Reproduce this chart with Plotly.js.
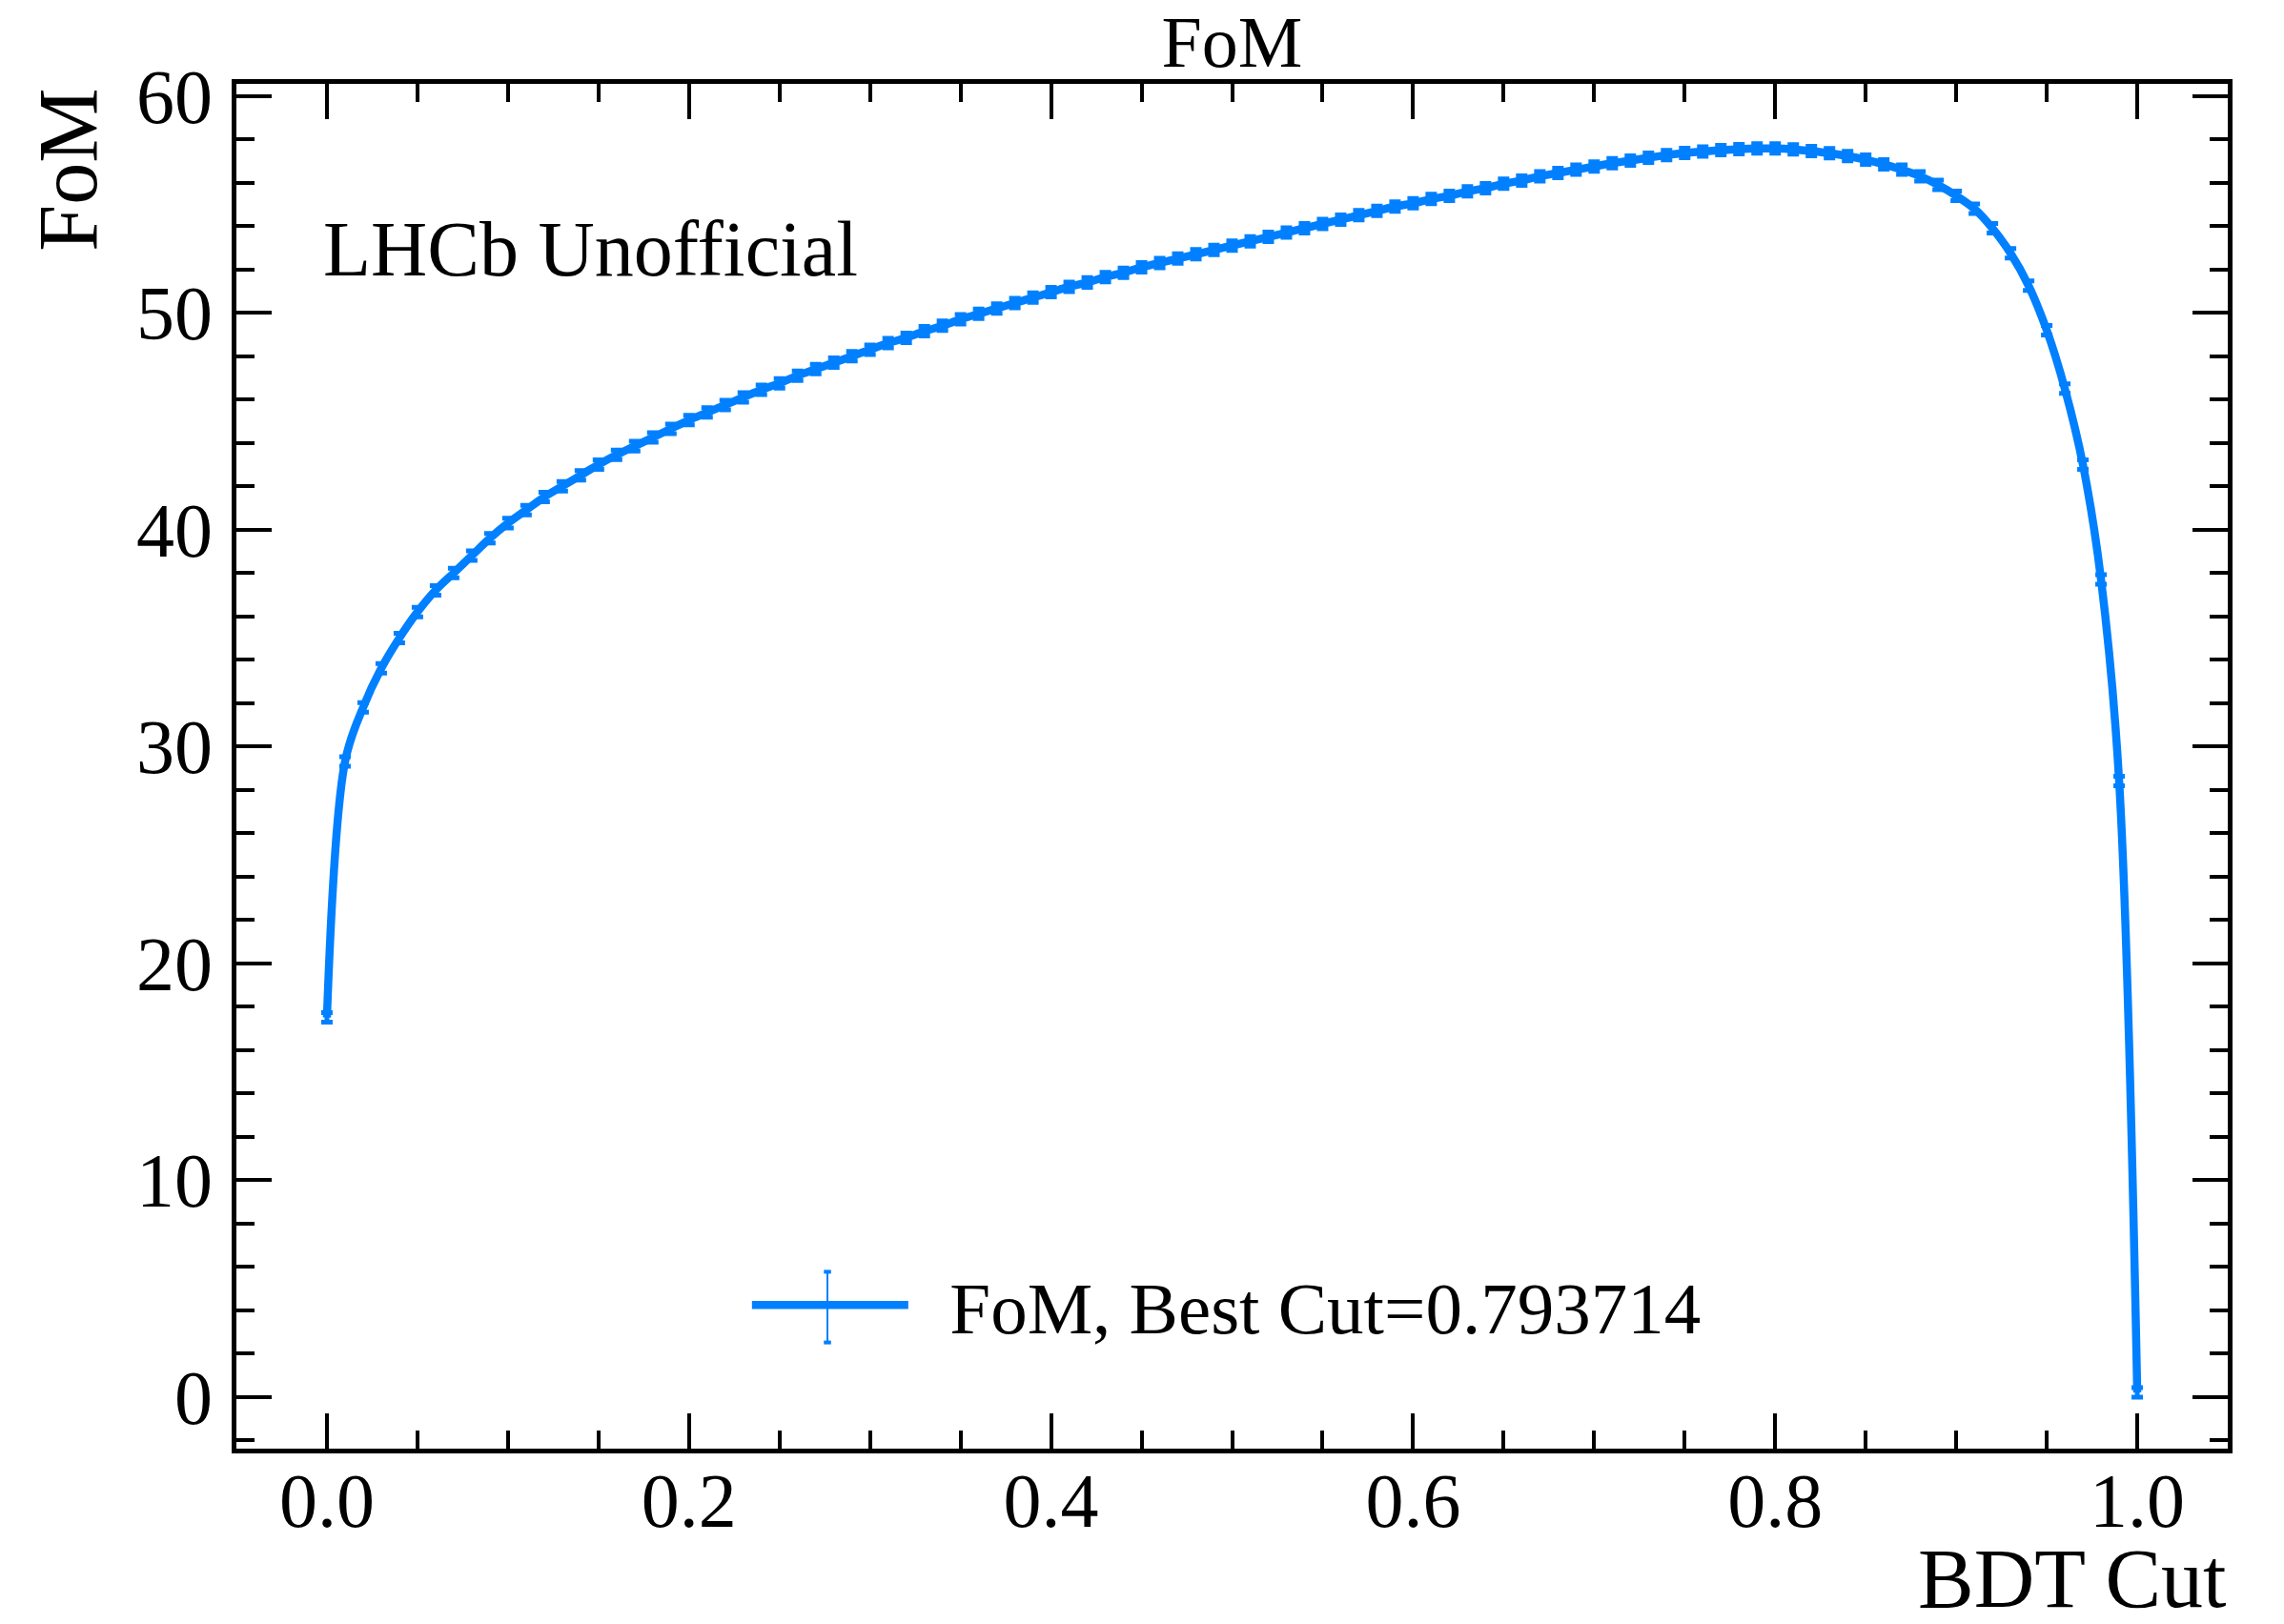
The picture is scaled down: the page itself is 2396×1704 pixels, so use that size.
<!DOCTYPE html>
<html>
<head>
<meta charset="utf-8">
<script src="https://cdn.plot.ly/plotly-3.0.1.min.js"></script>
<style>html,body{margin:0;padding:0;background:#fff;}#chart{width:2396px;height:1704px;}</style>
</head>
<body>
<div id="chart"></div>
<script>
// BDT cut values (x)
const bdtCut = [
  0.00,0.01,0.02,0.03,0.04,0.05,0.06,0.07,0.08,0.09,
  0.10,0.11,0.12,0.13,0.14,0.15,0.16,0.17,0.18,0.19,
  0.20,0.21,0.22,0.23,0.24,0.25,0.26,0.27,0.28,0.29,
  0.30,0.31,0.32,0.33,0.34,0.35,0.36,0.37,0.38,0.39,
  0.40,0.41,0.42,0.43,0.44,0.45,0.46,0.47,0.48,0.49,
  0.50,0.51,0.52,0.53,0.54,0.55,0.56,0.57,0.58,0.59,
  0.60,0.61,0.62,0.63,0.64,0.65,0.66,0.67,0.68,0.69,
  0.70,0.71,0.72,0.73,0.74,0.75,0.76,0.77,0.78,0.79,
  0.80,0.81,0.82,0.83,0.84,0.85,0.86,0.87,0.88,0.89,
  0.90,0.91,0.92,0.93,0.94,0.95,0.96,0.97,0.98,0.99,
  1.00
];
// FoM values (y)
const fomValues = [
  17.5,29.3,31.8,33.6,35.0,36.2,37.2,38.0,38.8,39.6,
  40.3,40.9,41.5,42.0,42.5,43.0,43.45,43.85,44.25,44.65,
  45.05,45.4,45.75,46.1,46.45,46.75,47.1,47.4,47.7,48.0,
  48.3,48.6,48.85,49.15,49.4,49.7,49.95,50.2,50.45,50.7,
  50.95,51.2,51.4,51.65,51.85,52.1,52.3,52.5,52.7,52.9,
  53.1,53.3,53.5,53.7,53.9,54.1,54.3,54.5,54.7,54.9,
  55.05,55.25,55.4,55.6,55.75,55.95,56.1,56.3,56.45,56.6,
  56.75,56.9,57.02,57.15,57.27,57.37,57.44,57.5,57.55,57.58,
  57.58,57.54,57.46,57.36,57.23,57.06,56.85,56.6,56.3,55.9,
  55.4,54.8,53.9,52.75,51.25,49.2,46.5,43.0,37.7,28.4,
  0.2
];
const fomError = 0.22;
const seriesName = 'FoM, Best Cut=0.793714';
const xTickVals = [0.0, 0.2, 0.4, 0.6, 0.8, 1.0];
const xTickText = ['0.0', '0.2', '0.4', '0.6', '0.8', '1.0'];
const yTickVals = [0, 10, 20, 30, 40, 50, 60];
const yTickText = ['0', '10', '20', '30', '40', '50', '60'];

const FONT = "'Liberation Serif', 'Times New Roman', Times, serif";
const BLUE = '#0080ff';
const xRange = [-0.05, 1.05];
const yRange = [-2.39, 60.56];

const traces = [
  {
    x: bdtCut, y: fomValues, type: 'scatter', mode: 'lines',
    name: '\u00a0\u00a0' + seriesName,
    line: {color: BLUE, width: 8.5, shape: 'spline', smoothing: 1},
    error_y: {type: 'constant', value: fomError, color: BLUE, thickness: 5, width: 6, visible: true},
    hoverinfo: 'x+y'
  },
  {
    x: [], y: [], xaxis: 'x2', yaxis: 'y2', type: 'scatter', mode: 'lines',
    showlegend: false, hoverinfo: 'skip'
  }
];

const axCommon = {
  showgrid: false, zeroline: false, showline: true, linecolor: 'black', linewidth: 5,
  ticks: 'inside', ticklen: 37, tickwidth: 4, tickcolor: 'black',
  tickfont: {family: FONT, size: 80, color: 'black'}
};

const layout = {
  width: 2396, height: 1704,
  paper_bgcolor: 'white', plot_bgcolor: 'white',
  margin: {l: 248, r: 59, t: 88, b: 184, pad: 0},
  font: {family: FONT, color: 'black'},
  title: {text: 'FoM', font: {family: FONT, size: 76, color: 'black'},
          x: 0.5, xref: 'paper', xanchor: 'center', y: 0.9745, yref: 'container', yanchor: 'middle'},
  xaxis: Object.assign({}, axCommon, {
    range: xRange, tickmode: 'array', tickvals: xTickVals, ticktext: xTickText,
    minor: {dtick: 0.05, tick0: 0, ticks: 'inside', ticklen: 19, tickwidth: 4, tickcolor: 'black', showgrid: false},
    ticklabelstandoff: -19
  }),
  yaxis: Object.assign({}, axCommon, {
    range: yRange, tickmode: 'array', tickvals: yTickVals, ticktext: yTickText,
    minor: {dtick: 2, tick0: 0, ticks: 'inside', ticklen: 19, tickwidth: 4, tickcolor: 'black', showgrid: false},
    ticklabelstandoff: 4
  }),
  xaxis2: Object.assign({}, axCommon, {
    overlaying: 'x', side: 'top', anchor: 'y2', range: xRange,
    tickmode: 'array', tickvals: xTickVals, showticklabels: false,
    minor: {dtick: 0.05, tick0: 0, ticks: 'inside', ticklen: 19, tickwidth: 4, tickcolor: 'black', showgrid: false}
  }),
  yaxis2: Object.assign({}, axCommon, {
    overlaying: 'y', side: 'right', anchor: 'x2', range: yRange,
    tickmode: 'array', tickvals: yTickVals, showticklabels: false,
    minor: {dtick: 2, tick0: 0, ticks: 'inside', ticklen: 19, tickwidth: 4, tickcolor: 'black', showgrid: false}
  }),
  showlegend: true,
  legend: {
    x: 0.2565, xanchor: 'left', y: 0.105, yanchor: 'middle',
    bgcolor: 'rgba(0,0,0,0)', borderwidth: 0,
    font: {family: FONT, size: 77, color: 'black'},
    itemwidth: 164, tracegroupgap: 0
  },
  annotations: [
    {text: 'LHCb Unofficial', xref: 'paper', yref: 'paper', x: 0.0425, y: 0.879,
     xanchor: 'left', yanchor: 'middle', showarrow: false,
     font: {family: FONT, size: 82, color: 'black'}},
    {text: 'BDT Cut', xref: 'paper', yref: 'paper', x: 1.0, y: -0.095, borderpad: 0,
     xanchor: 'right', yanchor: 'middle', showarrow: false,
     font: {family: FONT, size: 88, color: 'black'}},
    {text: 'FoM', xref: 'paper', yref: 'paper', x: -0.0845, y: 0.937,
     xanchor: 'center', yanchor: 'middle', textangle: -90, showarrow: false,
     font: {family: FONT, size: 88, color: 'black'}}
  ],
  shapes: [
    // legend error-bar glyph
    {type: 'line', xref: 'paper', yref: 'paper', x0: 0.2968, x1: 0.2968, y0: 0.0775, y1: 0.1299,
     line: {color: BLUE, width: 2}},
    {type: 'line', xref: 'paper', yref: 'paper', x0: 0.2950, x1: 0.2986, y0: 0.1296, y1: 0.1296,
     line: {color: BLUE, width: 4}},
    {type: 'line', xref: 'paper', yref: 'paper', x0: 0.2950, x1: 0.2986, y0: 0.0778, y1: 0.0778,
     line: {color: BLUE, width: 4}}
  ]
};

Plotly.newPlot('chart', traces, layout, {displayModeBar: false, staticPlot: true});
</script>
</body>
</html>
